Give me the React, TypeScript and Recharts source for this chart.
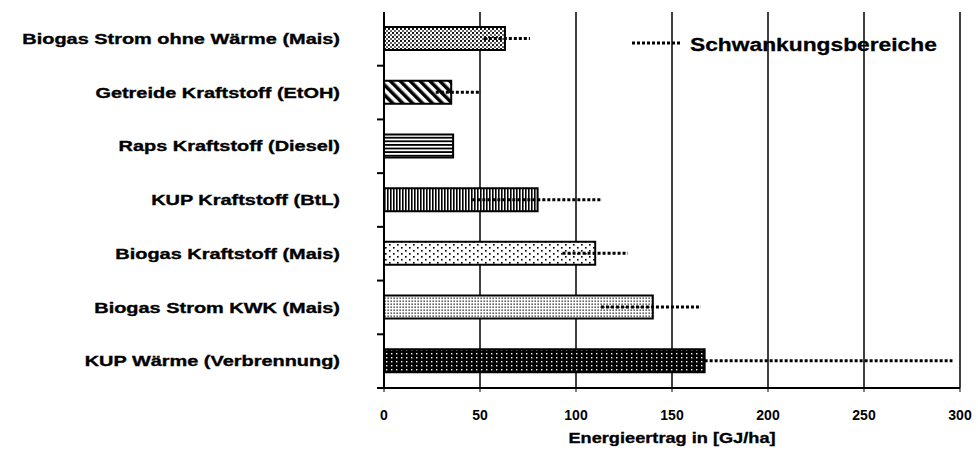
import React from "react";
import { BarChart, Bar, XAxis, YAxis, CartesianGrid, ErrorBar, Cell, Label } from "recharts";

const categories = [
  "Biogas Strom ohne Wärme (Mais)",
  "Getreide Kraftstoff (EtOH)",
  "Raps Kraftstoff (Diesel)",
  "KUP Kraftstoff (BtL)",
  "Biogas Kraftstoff (Mais)",
  "Biogas Strom KWK (Mais)",
  "KUP Wärme (Verbrennung)",
];
const energyYield = [63, 35, 36, 80, 110, 140, 167];
const rangeLow = [52, 27, 36, 46, 93, 113, 167];
const rangeHigh = [76, 50, 36, 113, 127, 165, 296];
const xTicks = [0, 50, 100, 150, 200, 250, 300];

const patternIds = ["pStipple", "pDiag", "pHoriz", "pVert", "pSparse", "pFine", "pDark"];

const FONT = "Arial, 'Liberation Sans', sans-serif";
const BAND = 53.7;

const data = categories.map((name, i) => ({
  name,
  value: energyYield[i],
  range: [energyYield[i] - rangeLow[i], rangeHigh[i] - energyYield[i]],
}));

const CategoryTick = ({ x, y, payload }: any) => (
  <g>
    <line x1={x - 7} x2={x} y1={y + BAND / 2} y2={y + BAND / 2} stroke="#000" strokeWidth={2} />
    <text
      transform={`translate(${x - 44},${y}) scale(1.33,1)`}
      textAnchor="end"
      dominantBaseline="central"
      fontFamily={FONT}
      fontWeight={700}
      fontSize={15}
      fill="#000"
      stroke="#000"
      strokeWidth={0.35}
    >
      {payload.value}
    </text>
  </g>
);

const AxisTitle = ({ viewBox }: any) => {
  const cx = viewBox.x + viewBox.width / 2;
  return (
    <text
      transform={`translate(${cx},${viewBox.y + 55}) scale(1.3,1)`}
      textAnchor="middle"
      fontFamily={FONT}
      fontWeight={700}
      fontSize={14}
      fill="#000"
      stroke="#000"
      strokeWidth={0.3}
    >
      Energieertrag in [GJ/ha]
    </text>
  );
};

export default function App() {
  return (
    <div style={{ position: "absolute", left: 0, top: 0, width: 978, height: 452, background: "#fff" }}>
      <BarChart
        width={978}
        height={452}
        data={data}
        layout="vertical"
        margin={{ top: 12, right: 18, left: 0, bottom: 0 }}
        barSize={23}
      >
        <defs>
          <pattern id="pStipple" width="4" height="4" patternUnits="userSpaceOnUse">
            <rect width="4" height="4" fill="#fff" />
            <circle cx="1" cy="1" r="1.1" fill="#000" />
            <circle cx="3" cy="3" r="1" fill="#333" />
          </pattern>
          <pattern id="pDiag" width="7" height="7" patternUnits="userSpaceOnUse" patternTransform="rotate(-45)">
            <rect width="7" height="7" fill="#fff" />
            <rect width="3.5" height="7" fill="#000" />
          </pattern>
          <pattern id="pHoriz" width="4" height="3.6" patternUnits="userSpaceOnUse">
            <rect width="4" height="3.6" fill="#fff" />
            <rect width="4" height="1.8" fill="#000" />
          </pattern>
          <pattern id="pVert" width="3" height="4" patternUnits="userSpaceOnUse">
            <rect width="3" height="4" fill="#fff" />
            <rect width="1.6" height="4" fill="#000" />
          </pattern>
          <pattern id="pSparse" width="8" height="6" patternUnits="userSpaceOnUse">
            <rect width="8" height="6" fill="#fff" />
            <rect x="1" y="1" width="1.6" height="1.6" fill="#000" />
            <rect x="5" y="4" width="1.6" height="1.6" fill="#000" />
          </pattern>
          <pattern id="pFine" width="3" height="3" patternUnits="userSpaceOnUse">
            <rect width="3" height="3" fill="#fff" />
            <rect x="0.5" y="0.5" width="1.3" height="1.3" fill="#111" />
          </pattern>
          <pattern id="pDark" width="5" height="4" patternUnits="userSpaceOnUse">
            <rect width="5" height="4" fill="#000" />
            <rect x="1" y="1" width="1.4" height="1.4" fill="#fff" />
          </pattern>
        </defs>
        <CartesianGrid horizontal={false} stroke="#000" strokeWidth={1.5} />
        <XAxis
          type="number"
          domain={[0, 300]}
          ticks={xTicks}
          axisLine={{ stroke: "#000", strokeWidth: 2 }}
          tickLine={{ stroke: "#000" }}
          tickSize={4}
          tickMargin={18}
          height={64}
          tick={{ fill: "#000", fontSize: 14, fontWeight: 700, fontFamily: FONT }}
        >
          <Label content={AxisTitle} />
        </XAxis>
        <YAxis
          type="category"
          dataKey="name"
          width={384}
          axisLine={{ stroke: "#000", strokeWidth: 2 }}
          tickLine={false}
          tickSize={0}
          tickMargin={0}
          interval={0}
          tick={<CategoryTick />}
        />
        <Bar dataKey="value" stroke="#000" strokeWidth={2} isAnimationActive={false}>
          {data.map((d, i) => (
            <Cell key={d.name} fill={`url(#${patternIds[i]})`} />
          ))}
          <ErrorBar
            dataKey="range"
            direction="x"
            width={0}
            stroke="#000"
            strokeWidth={3}
            strokeDasharray="3 2"
            isAnimationActive={false}
          />
        </Bar>
      </BarChart>
      <svg width={330} height={40} style={{ position: "absolute", left: 628, top: 26 }}>
        <line x1={4} x2={52} y1={17} y2={17} stroke="#000" strokeWidth={3} strokeDasharray="3 2" />
        <text
          transform="translate(62,25) scale(1.2,1)"
          fontFamily={FONT}
          fontWeight={700}
          fontSize={19}
          fill="#000"
          stroke="#000"
          strokeWidth={0.3}
        >
          Schwankungsbereiche
        </text>
      </svg>
    </div>
  );
}
